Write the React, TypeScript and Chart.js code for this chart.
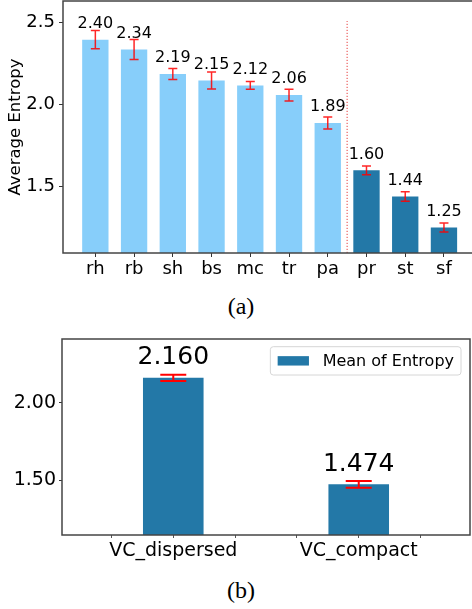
import React, { useEffect, useRef } from 'react';
import { Chart, registerables } from 'chart.js';

Chart.register(...registerables);

const FONT = "'DejaVu Sans', sans-serif";
const LIGHT = '#87cefa';
const DARK = '#2378a7';

// ---- Chart (a) data ----
const catsA = ['rh', 'rb', 'sh', 'bs', 'mc', 'tr', 'pa', 'pr', 'st', 'sf'];
const valsA = [2.396, 2.336, 2.186, 2.146, 2.116, 2.057, 1.886, 1.596, 1.436, 1.246];
const errsA = [0.056, 0.061, 0.034, 0.052, 0.024, 0.036, 0.037, 0.027, 0.029, 0.028];
const groupA = [0, 0, 0, 0, 0, 0, 0, 1, 1, 1];
const yTicksA = [1.5, 2.0, 2.5];
const yTitleA = 'Average Entropy';

// ---- Chart (b) data ----
const catsB = ['VC_dispersed', 'VC_compact'];
const valsB = [2.16, 1.474];
const errsB = [0.02, 0.022];
const yTicksB = [1.5, 2.0];
const xTickPosB = [-1 / 3, 0, 1 / 3, 2 / 3, 1, 4 / 3];
const legendB = 'Mean of Entropy';

function makeFrame(color: string, width: number) {
  return {
    id: 'frame',
    afterDatasetsDraw(chart: any) {
      const { ctx, chartArea: a } = chart;
      ctx.save();
      ctx.strokeStyle = color;
      ctx.lineWidth = width;
      ctx.strokeRect(a.left, a.top, a.right - a.left, a.bottom - a.top);
      ctx.restore();
    },
  };
}

function makeErrLabels(vals: number[], errs: number[], cfg: any) {
  return {
    id: 'errlabels',
    afterDraw(chart: any) {
      const { ctx } = chart;
      const xs = chart.scales.x;
      const ys = chart.scales.y;
      ctx.save();
      ctx.strokeStyle = cfg.errColor;
      ctx.lineWidth = cfg.errWidth;
      vals.forEach((v, i) => {
        const x = xs.getPixelForValue(i);
        const y1 = ys.getPixelForValue(v + errs[i]);
        const y2 = ys.getPixelForValue(v - errs[i]);
        ctx.beginPath();
        ctx.moveTo(x, y1);
        ctx.lineTo(x, y2);
        ctx.moveTo(x - cfg.cap / 2, y1);
        ctx.lineTo(x + cfg.cap / 2, y1);
        ctx.moveTo(x - cfg.cap / 2, y2);
        ctx.lineTo(x + cfg.cap / 2, y2);
        ctx.stroke();
      });
      ctx.fillStyle = '#000';
      ctx.font = `${cfg.labelSize}px ${FONT}`;
      ctx.textAlign = 'center';
      ctx.textBaseline = 'alphabetic';
      vals.forEach((v, i) => {
        const x = xs.getPixelForValue(i);
        const y = ys.getPixelForValue(v) - cfg.labelGap;
        ctx.fillText(v.toFixed(cfg.decimals), x, y);
      });
      ctx.restore();
    },
  };
}

function ChartA() {
  const ref = useRef<HTMLCanvasElement>(null);
  useEffect(() => {
    const splitIdx = groupA.indexOf(1);
    const divider = {
      id: 'divider',
      beforeDatasetsDraw(chart: any) {
        const { ctx, chartArea: a } = chart;
        const x = chart.scales.x.getPixelForValue(splitIdx - 0.5);
        const yTop = chart.scales.y.getPixelForValue(2.51);
        ctx.save();
        ctx.strokeStyle = 'rgba(230,40,40,0.9)';
        ctx.lineWidth = 1;
        ctx.setLineDash([1.2, 1.8]);
        ctx.beginPath();
        ctx.moveTo(x, a.bottom);
        ctx.lineTo(x, yTop);
        ctx.stroke();
        ctx.restore();
      },
    };
    const chart = new Chart(ref.current!, {
      type: 'bar',
      data: {
        datasets: [
          {
            data: valsA.map((v, i) => ({ x: i, y: v })),
            backgroundColor: groupA.map((g) => (g ? DARK : LIGHT)),
            borderWidth: 0,
            categoryPercentage: 1,
            barPercentage: 0.68,
          } as any,
        ],
      },
      options: {
        animation: false,
        responsive: false,
        layout: { padding: { top: 1, left: 0, right: 0.7, bottom: 0 } },
        plugins: { legend: { display: false }, tooltip: { enabled: false } },
        scales: {
          x: {
            type: 'linear',
            min: -0.835,
            max: 9.835,
            offset: false,
            afterBuildTicks: (s: any) => {
              s.ticks = catsA.map((_, i) => ({ value: i }));
            },
            afterFit: (s: any) => {
              s.height = 37;
              s.paddingLeft = 0;
              s.paddingRight = 0;
            },
            ticks: {
              callback: (v: any) => catsA[v] ?? '',
              font: { family: FONT, size: 18 },
              color: '#000',
              padding: 2,
              maxRotation: 0,
              autoSkip: false,
            },
            grid: { drawOnChartArea: false, drawTicks: true, tickLength: 4, tickColor: '#333', tickWidth: 1, offset: false },
            border: { display: false },
          },
          y: {
            type: 'linear',
            min: 1.09,
            max: 2.633,
            afterBuildTicks: (s: any) => {
              s.ticks = yTicksA.map((v) => ({ value: v }));
            },
            afterFit: (s: any) => {
              s.width = 63;
              s.paddingTop = 0;
              s.paddingBottom = 0;
            },
            ticks: {
              callback: (v: any) => Number(v).toFixed(1),
              font: { family: FONT, size: 18 },
              color: '#000',
              padding: 4,
            },
            title: {
              display: true,
              text: yTitleA,
              font: { family: FONT, size: 16.5 },
              color: '#000',
              padding: { top: 6, bottom: 0 },
            },
            grid: { drawOnChartArea: false, drawTicks: true, tickLength: 4, tickColor: '#333', tickWidth: 1 },
            border: { display: false },
          },
        },
      } as any,
      plugins: [
        divider,
        makeFrame('#444', 1.5),
        makeErrLabels(valsA, errsA, {
          errColor: 'rgba(255,0,0,0.85)',
          errWidth: 1.5,
          cap: 9,
          labelSize: 16,
          labelGap: 11.6,
          decimals: 2,
        }),
      ],
    });
    return () => chart.destroy();
  }, []);
  return (
    <canvas
      ref={ref}
      width={477}
      height={290}
      style={{ position: 'absolute', left: 0, top: 0, width: 477, height: 290 }}
    />
  );
}

function ChartB() {
  const ref = useRef<HTMLCanvasElement>(null);
  useEffect(() => {
    const legend = {
      id: 'boxlegend',
      afterDraw(chart: any) {
        const { ctx, chartArea: a } = chart;
        ctx.save();
        ctx.font = `16px ${FONT}`;
        const tw = ctx.measureText(legendB).width;
        const w = 7.3 + 31.3 + 13.7 + tw + 7;
        const h = 28.3;
        const bx = a.right - 9 - w;
        const by = a.top + 7.7;
        const r = 3;
        ctx.beginPath();
        ctx.moveTo(bx + r, by);
        ctx.lineTo(bx + w - r, by);
        ctx.arcTo(bx + w, by, bx + w, by + r, r);
        ctx.lineTo(bx + w, by + h - r);
        ctx.arcTo(bx + w, by + h, bx + w - r, by + h, r);
        ctx.lineTo(bx + r, by + h);
        ctx.arcTo(bx, by + h, bx, by + h - r, r);
        ctx.lineTo(bx, by + r);
        ctx.arcTo(bx, by, bx + r, by, r);
        ctx.closePath();
        ctx.fillStyle = 'rgba(255,255,255,0.8)';
        ctx.fill();
        ctx.strokeStyle = '#d6d6d6';
        ctx.lineWidth = 1;
        ctx.stroke();
        ctx.fillStyle = DARK;
        ctx.fillRect(bx + 7.3, by + h / 2 - 4.7, 31.3, 9.4);
        ctx.fillStyle = '#000';
        ctx.textAlign = 'left';
        ctx.textBaseline = 'middle';
        ctx.fillText(legendB, bx + 7.3 + 31.3 + 13.7, by + h / 2 + 0.5);
        ctx.restore();
      },
    };
    const chart = new Chart(ref.current!, {
      type: 'bar',
      data: {
        datasets: [
          {
            label: legendB,
            data: valsB.map((v, i) => ({ x: i, y: v })),
            backgroundColor: DARK,
            borderWidth: 0,
            categoryPercentage: 1,
            // ruler spacing is the 1/3-unit tick interval; 0.98 of it = 0.327 unit
            barPercentage: 0.98,
          } as any,
        ],
      },
      options: {
        animation: false,
        responsive: false,
        layout: { padding: { top: 19, left: 0, right: 2, bottom: 0 } },
        plugins: { legend: { display: false }, tooltip: { enabled: false } },
        scales: {
          x: {
            type: 'linear',
            min: -0.6,
            max: 1.6,
            offset: false,
            afterBuildTicks: (s: any) => {
              s.ticks = xTickPosB.map((v) => ({ value: v }));
            },
            afterFit: (s: any) => {
              s.height = 35;
              s.paddingLeft = 0;
              s.paddingRight = 0;
            },
            ticks: {
              callback: (v: any) => (Number.isInteger(v) ? catsB[v] : ''),
              font: { family: FONT, size: 19 },
              color: '#000',
              padding: 2,
              maxRotation: 0,
              autoSkip: false,
            },
            grid: { drawOnChartArea: false, drawTicks: true, tickLength: 3, tickColor: '#555', tickWidth: 1, offset: false },
            border: { display: false },
          },
          y: {
            type: 'linear',
            min: 1.148,
            max: 2.41,
            afterBuildTicks: (s: any) => {
              s.ticks = yTicksB.map((v) => ({ value: v }));
            },
            afterFit: (s: any) => {
              s.width = 62;
              s.paddingTop = 0;
              s.paddingBottom = 0;
            },
            ticks: {
              callback: (v: any) => Number(v).toFixed(2),
              font: { family: FONT, size: 19 },
              color: '#000',
              padding: 3,
            },
            grid: { drawOnChartArea: false, drawTicks: true, tickLength: 3, tickColor: '#333', tickWidth: 1 },
            border: { display: false },
          },
        },
      } as any,
      plugins: [
        makeFrame('#444', 1.5),
        makeErrLabels(valsB, errsB, {
          errColor: '#ff0000',
          errWidth: 2,
          cap: 26,
          labelSize: 25,
          labelGap: 13.7,
          decimals: 3,
        }),
        legend,
      ],
    });
    return () => chart.destroy();
  }, []);
  return (
    <canvas
      ref={ref}
      width={472}
      height={250}
      style={{ position: 'absolute', left: 0, top: 320, width: 472, height: 250 }}
    />
  );
}

const captionStyle: React.CSSProperties = {
  position: 'absolute',
  left: 0,
  width: 482,
  textAlign: 'center',
  fontFamily: "'Liberation Serif', serif",
  fontSize: 24,
  lineHeight: '24px',
  color: '#000',
};

export default function App() {
  return (
    <div
      style={{
        position: 'fixed',
        left: 0,
        top: 0,
        width: 472,
        height: 609,
        overflow: 'hidden',
        background: '#fff',
      }}
    >
      <ChartA />
      <div style={{ ...captionStyle, top: 294 }}>(a)</div>
      <ChartB />
      <div style={{ ...captionStyle, top: 578 }}>(b)</div>
    </div>
  );
}
